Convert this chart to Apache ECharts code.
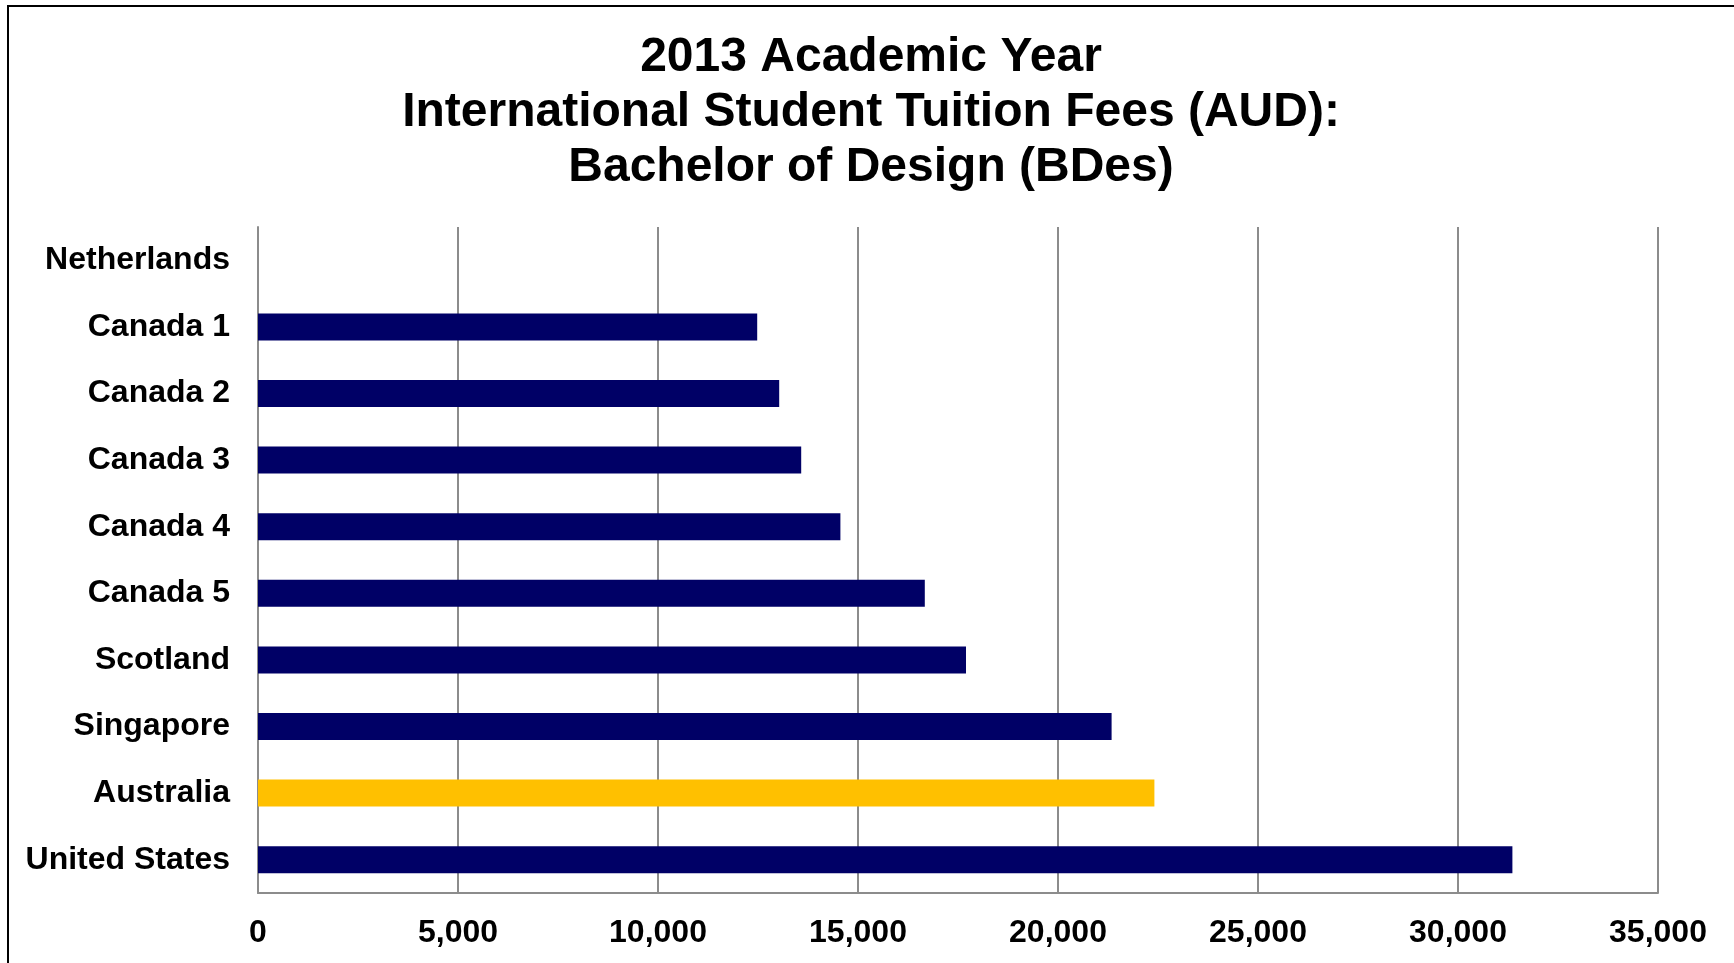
<!DOCTYPE html>
<html>
<head>
<meta charset="utf-8">
<script src="https://cdn.jsdelivr.net/npm/echarts@6/dist/echarts.min.js"></script>
<style>
  html, body { margin: 0; padding: 0; background: #fff; }
  #chart { width: 1734px; height: 963px; }
</style>
</head>
<body>
<div id="chart"></div>
<script>
// Data
const categories = ['Netherlands', 'Canada 1', 'Canada 2', 'Canada 3', 'Canada 4', 'Canada 5', 'Scotland', 'Singapore', 'Australia', 'United States'];
const fees = [null, 12480, 13030, 13580, 14560, 16670, 17700, 21340, 22410, 31360];
const highlight = ['Australia'];
const xTicks = [0, 5000, 10000, 15000, 20000, 25000, 30000, 35000];
const titleLines = ['2013 Academic Year', 'International Student Tuition Fees (AUD):', 'Bachelor of Design (BDes)'];

const NAVY = '#000066';
const GOLD = '#FFC000';
const GRID = '#8c8c8c';
const FONT = '"Liberation Sans", Arial, sans-serif';

const chart = echarts.init(document.getElementById('chart'), null, { renderer: 'canvas' });

const seriesData = categories.map((c, i) => ({
  value: fees[i],
  itemStyle: { color: highlight.includes(c) ? GOLD : NAVY }
}));

chart.setOption({
  backgroundColor: '#ffffff',
  animation: false,
  title: {
    text: titleLines.join('\n'),
    left: 866,
    top: 25,
    textAlign: 'center',
    textStyle: {
      fontFamily: FONT,
      fontWeight: 'bold',
      fontSize: 48,
      lineHeight: 55,
      color: '#000'
    }
  },
  graphic: [{
    type: 'rect',
    shape: { x: 8, y: 6, width: 1800, height: 1100 },
    style: { fill: 'none', stroke: '#000', lineWidth: 2 },
    silent: true,
    z: 100
  }],
  grid: {
    left: 258,
    right: 76,
    top: 227,
    bottom: 70,
    containLabel: false
  },
  xAxis: {
    type: 'value',
    min: xTicks[0],
    max: xTicks[xTicks.length - 1],
    interval: xTicks[1] - xTicks[0],
    axisLine: { show: true, lineStyle: { color: GRID, width: 2 } },
    axisTick: { show: false },
    splitLine: { show: true, lineStyle: { color: GRID, width: 2 } },
    axisLabel: {
      show: true,
      showMinLabel: true,
      showMaxLabel: true,
      margin: 24,
      fontFamily: FONT,
      fontWeight: 'bold',
      fontSize: 32,
      color: '#000',
      formatter: v => v.toLocaleString('en-US')
    }
  },
  yAxis: {
    type: 'category',
    data: categories,
    inverse: true,
    axisLine: { show: true, lineStyle: { color: GRID, width: 2 } },
    axisTick: { show: false },
    splitLine: { show: false },
    axisLabel: {
      margin: 28,
      fontFamily: FONT,
      fontWeight: 'bold',
      fontSize: 32,
      color: '#000',
      padding: [6, 0, 0, 0]
    }
  },
  series: [{
    type: 'bar',
    data: seriesData,
    barWidth: 27,
    itemStyle: { color: NAVY },
    z: 3
  }]
});
</script>
</body>
</html>
